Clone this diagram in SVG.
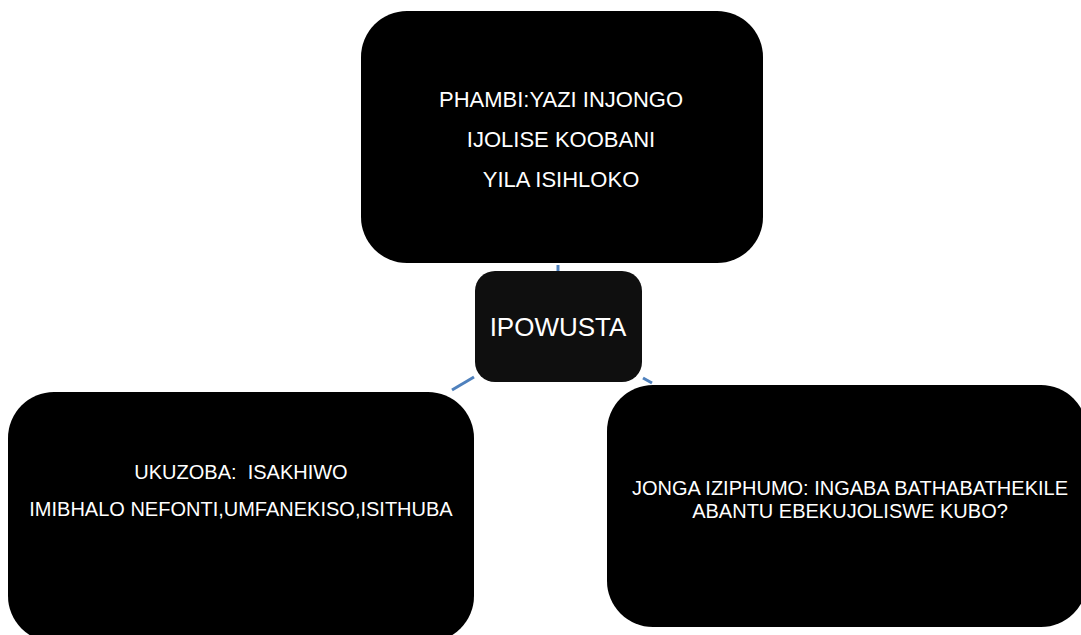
<svg xmlns="http://www.w3.org/2000/svg" width="1081" height="635" viewBox="0 0 1081 635">
<style>
.box{fill:#000000;}
.center{fill:#0f0f0f;}
.t{fill:#ffffff;font-family:"Liberation Sans",Arial,sans-serif;text-anchor:middle;}
.c{stroke:#4f81bd;stroke-width:3;fill:none;}
</style>
<rect width="1081" height="635" fill="#ffffff"/>
<g id="connectors">
<line class="c" x1="558" y1="271" x2="558" y2="265" stroke-width="2"/>
<line class="c" x1="474" y1="377" x2="452" y2="390"/>
<line class="c" x1="643" y1="378" x2="652" y2="383"/>
</g>
<g id="node-top">
<rect class="box" x="361" y="11" width="402" height="252" rx="46" ry="46"/>
<text class="t" x="561" y="107" font-size="22">PHAMBI:YAZI INJONGO</text>
<text class="t" x="561" y="147" font-size="22">IJOLISE KOOBANI</text>
<text class="t" x="561" y="187" font-size="22">YILA ISIHLOKO</text>
</g>
<g id="node-center">
<rect class="center" x="475" y="271" width="167" height="111" rx="20" ry="20"/>
<text class="t" x="558" y="336" font-size="26">IPOWUSTA</text>
</g>
<g id="node-left">
<rect class="box" x="8" y="392" width="466" height="250" rx="46" ry="46"/>
<text class="t" x="241" y="479" font-size="20" xml:space="preserve">UKUZOBA:  ISAKHIWO</text>
<text class="t" x="241" y="516" font-size="20">IMIBHALO NEFONTI,UMFANEKISO,ISITHUBA</text>
</g>
<g id="node-right">
<rect class="box" x="607" y="385" width="480" height="242" rx="46" ry="46"/>
<text class="t" x="850" y="495" font-size="20">JONGA IZIPHUMO: INGABA BATHABATHEKILE</text>
<text class="t" x="850" y="518" font-size="20">ABANTU EBEKUJOLISWE KUBO?</text>
</g>
</svg>
